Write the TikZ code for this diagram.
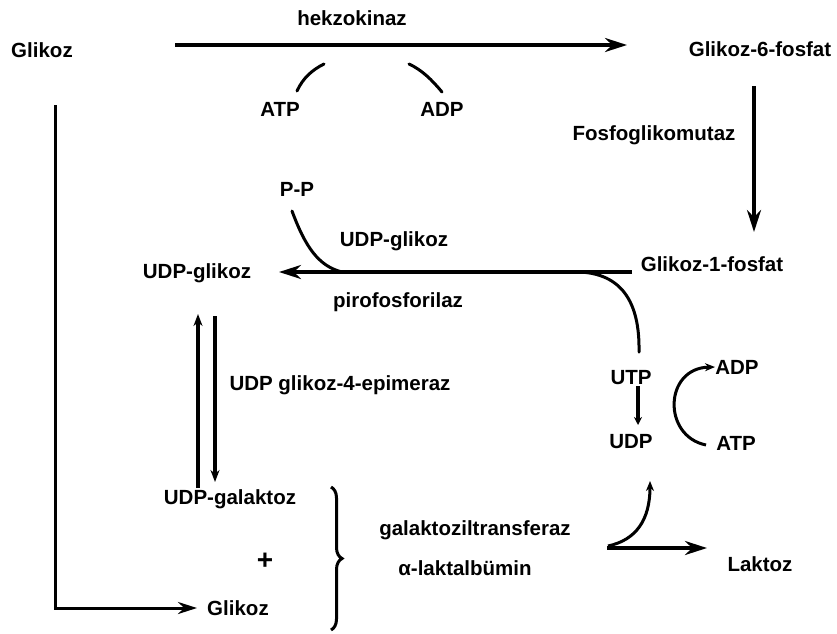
\documentclass[tikz,border=0pt]{standalone}
\usepackage{fontspec}
\setmainfont{Liberation Sans}
\usetikzlibrary{arrows.meta,decorations.pathreplacing}
\begin{document}
\begin{tikzpicture}[x=1pt,y=-1pt,
  lbl/.style={font=\fontsize{20.5}{24}\selectfont\bfseries, inner sep=0pt, anchor=base},
  flow/.style={line width=3.4pt, -{Stealth[length=22pt,width=14pt]}},
  thin flow/.style={line width=3pt, -{Stealth[length=19pt,width=12pt]}},
  side/.style={line width=3pt, line cap=round},
  side arrow/.style={line width=3pt, -{Stealth[length=10pt,width=8pt]}},
  epi arrow/.style={line width=3.6pt, -{Stealth[length=12pt,width=9pt]}}]
\useasboundingbox (0,0) rectangle (837,633);

% ---- labels ----
\node[lbl] (glk)    at (42,57)   {Glikoz};
\node[lbl] (hk)     at (352,25)  {hekzokinaz};
\node[lbl] (atp1)   at (280,116) {ATP};
\node[lbl] (adp1)   at (442,116) {ADP};
\node[lbl] (g6p)    at (760,56)  {Glikoz-6-fosfat};
\node[lbl] (pgm)    at (654,140) {Fosfoglikomutaz};
\node[lbl] (pp)     at (297,196) {P-P};
\node[lbl] (udpgp)  at (394,246) {UDP-glikoz};
\node[lbl] (udpg)   at (197,278) {UDP-glikoz};
\node[lbl] (g1p)    at (712,271) {Glikoz-1-fosfat};
\node[lbl] (pirof)  at (398,307) {pirofosforilaz};
\node[lbl] (epim)   at (340,390) {UDP glikoz-4-epimeraz};
\node[lbl] (utp)    at (631,384) {UTP};
\node[lbl] (udp)    at (631,448) {UDP};
\node[lbl] (adp2)   at (737,374) {ADP};
\node[lbl] (atp2)   at (736,450) {ATP};
\node[lbl] (udpgal) at (230,504) {UDP-galaktoz};
\node[inner sep=0pt, anchor=base, font=\fontsize{28}{30}\selectfont\bfseries] (plus) at (265,569) {+};
\node[lbl] (glk2)   at (238,615) {Glikoz};
\node[lbl] (galt)   at (475,535) {galaktoziltransferaz};
\node[lbl] (lalb)   at (465,575) {α-laktalbümin};
\node[lbl] (lak)    at (760,571) {Laktoz};

% ---- connector end points ----
\coordinate (hkS) at (175,45);
\coordinate (hkE) at (627,45);
\coordinate (atpS) at (297,91);
\coordinate (atpE) at (324,64);
\coordinate (adpS) at (409,64);
\coordinate (adpE) at (442,92);
\coordinate (pgmS) at (754,86);
\coordinate (pgmE) at (754,232);
\coordinate (pyrS) at (632,272);
\coordinate (pyrE) at (279,272);
\coordinate (ppS) at (292,211);
\coordinate (ppE) at (342,272);
\coordinate (utpS) at (639,352);
\coordinate (utpE) at (580,272);
\coordinate (utdS) at (638,386);
\coordinate (utdE) at (638,425);
\coordinate (cycS) at (706,445);
\coordinate (cycE) at (715,367);
\coordinate (epUpS) at (198,488);
\coordinate (epUpE) at (198,314);
\coordinate (epDnS) at (215,316);
\coordinate (epDnE) at (215,482);
\coordinate (glkS) at (55,105);
\coordinate (glkC) at (55,608);
\coordinate (glkE) at (197,608);
\coordinate (brT) at (331,487);
\coordinate (brB) at (331,630);
\coordinate (lakS) at (607,548);
\coordinate (lakE) at (707,548);
\coordinate (udpS) at (608,546);
\coordinate (udpE) at (650,481);

% ---- main reactions ----
\draw[flow] (hkS) -- (hkE);
\draw[side] (atpS) .. controls (303,78) and (312,70) .. (atpE);
\draw[side] (adpS) .. controls (422,70) and (432,80) .. (adpE);
\draw[flow] (pgmS) -- (pgmE);
\draw[flow] (pyrS) -- (pyrE);
\draw[side] (ppS) .. controls (305,246) and (318,266) .. (ppE);
\draw[side] (utpS) .. controls (640,300) and (620,274) .. (utpE);
\draw[line width=4pt, -{Stealth[length=8pt,width=8pt]}] (utdS) -- (utdE);
\draw[side arrow] (cycS) .. controls (662,436) and (664,368) .. (cycE);
\draw[epi arrow] (epUpS) -- (epUpE);
\draw[epi arrow] (epDnS) -- (epDnE);
\draw[thin flow] (glkS) -- (glkC) -- (glkE);
\draw[line width=3pt, decorate, decoration={brace, amplitude=11pt}] (brT) -- (brB);
\draw[flow] (lakS) -- (lakE);
\draw[side arrow] (udpS) .. controls (636,540) and (650,520) .. (udpE);
\end{tikzpicture}
\end{document}
